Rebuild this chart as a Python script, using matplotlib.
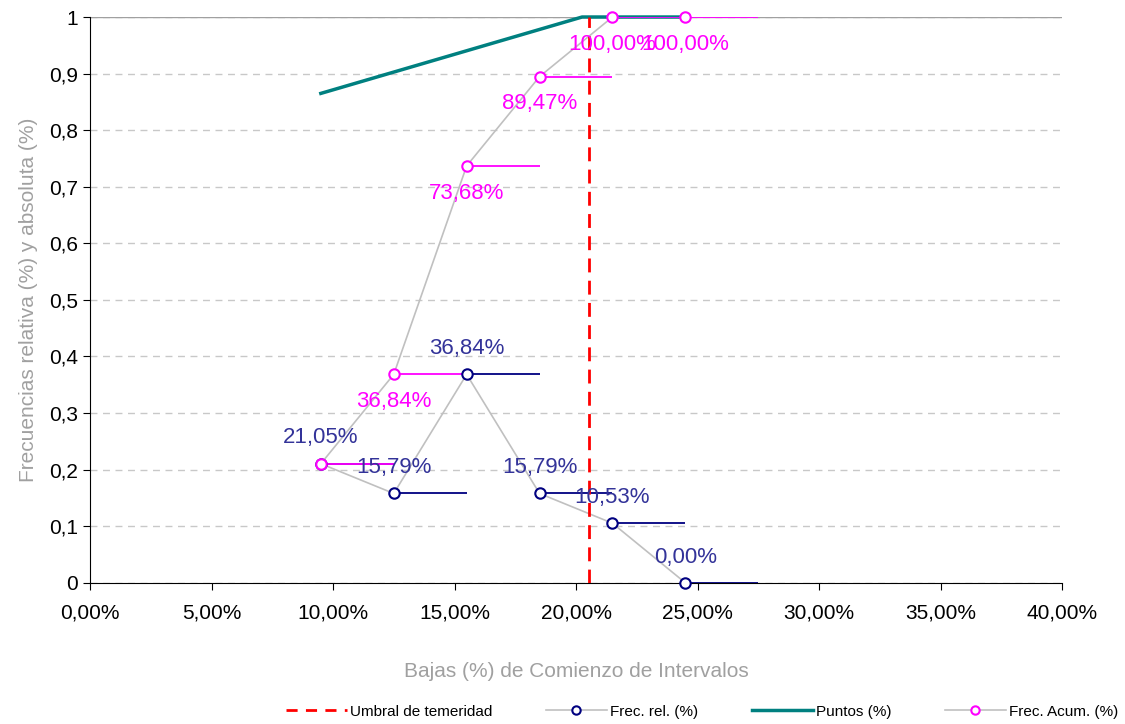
import matplotlib.pyplot as plt
from matplotlib.lines import Line2D
from matplotlib.ticker import FuncFormatter, MultipleLocator

plt.rcParams['font.family'] = ['Liberation Sans', 'DejaVu Sans']

# datos
bajas = [0.095, 0.125, 0.155, 0.185, 0.215, 0.245]
frec_rel = [0.2105, 0.1579, 0.3684, 0.1579, 0.1053, 0.0]
frec_acum = [0.2105, 0.3684, 0.7368, 0.8947, 1.0, 1.0]
ancho_intervalo = 0.03
puntos_x = [0.095, 0.2025, 0.245]
puntos_y = [0.865, 1.0, 1.0]
umbral = 0.2055

navy = '#000080'
label_navy = '#333399'
magenta = '#ff00ff'
teal = '#008080'


def pct(v):
    return ('%.2f%%' % (v * 100)).replace('.', ',')


fig = plt.figure(figsize=(11.25, 7.24), dpi=100)
ax = fig.add_axes([0.08, 0.195, 0.864, 0.7815])

ax.set_xlim(0, 0.40)
ax.set_ylim(0, 1)
ax.xaxis.set_major_locator(MultipleLocator(0.05))
ax.yaxis.set_major_locator(MultipleLocator(0.1))
ax.xaxis.set_major_formatter(FuncFormatter(lambda v, p: pct(v)))
ax.yaxis.set_major_formatter(
    FuncFormatter(lambda v, p: ('%g' % round(v, 1)).replace('.', ',')))
ax.grid(axis='y', color='#c8c8c8', linestyle=(0, (5, 4)), linewidth=1)
ax.axhline(1, color='#a0a0a0', lw=1, zorder=1)
ax.set_axisbelow(True)
for s in ['top', 'right']:
    ax.spines[s].set_visible(False)
ax.tick_params(labelsize=15, length=5, direction='out')
ax.tick_params(axis='x', pad=10)

# puntos
ax.plot(puntos_x, puntos_y, color=teal, lw=2.5, zorder=3, clip_on=False)

# frecuencia relativa
ax.plot(bajas, frec_rel, color='#c0c0c0', lw=1.2, zorder=2)
ax.errorbar(bajas, frec_rel, xerr=[[0] * len(bajas), [ancho_intervalo] * len(bajas)],
            fmt='none', ecolor=navy, elinewidth=1.3, capsize=0, zorder=3)
ax.plot(bajas, frec_rel, 'o', mfc='white', mec=navy, mew=1.5, ms=7.5,
        zorder=5, clip_on=False)

# frecuencia acumulada
ax.plot(bajas, frec_acum, color='#c0c0c0', lw=1.2, zorder=2)
ax.errorbar(bajas, frec_acum, xerr=[[0] * len(bajas), [ancho_intervalo] * len(bajas)],
            fmt='none', ecolor=magenta, elinewidth=1.3, capsize=0, zorder=4)
ax.plot(bajas, frec_acum, 'o', mfc='white', mec=magenta, mew=1.5, ms=7.5,
        zorder=6, clip_on=False)

# umbral
ax.axvline(umbral, color='#ff0000', lw=2, linestyle=(0, (5, 3)), zorder=4)

for x, y in zip(bajas, frec_rel):
    ax.annotate(pct(y), (x, y), xytext=(0, 11), textcoords='offset points',
                ha='center', va='bottom', fontsize=16, color=label_navy, zorder=7)
for x, y in zip(bajas[1:], frec_acum[1:]):
    ax.annotate(pct(y), (x, y), xytext=(0, -12), textcoords='offset points',
                ha='center', va='top', fontsize=16, color=magenta, zorder=7)

ax.set_xlabel('Bajas (%) de Comienzo de Intervalos', fontsize=15,
              color='#a0a0a0', labelpad=28)
ax.set_ylabel('Frecuencias relativa (%) y absoluta (%)', fontsize=15,
              color='#a0a0a0', labelpad=8)

handles = [
    Line2D([], [], color='#ff0000', lw=2, linestyle=(0, (4, 3))),
    Line2D([], [], color='#c0c0c0', lw=1.2, marker='o', mfc='white', mec=navy, mew=1.5, ms=6),
    Line2D([], [], color=teal, lw=2.5),
    Line2D([], [], color='#c0c0c0', lw=1.2, marker='o', mfc='white', mec=magenta, mew=1.5, ms=6),
]
labels = ['Umbral de temeridad', 'Frec. rel. (%)', 'Puntos (%)', 'Frec. Acum. (%)']
fig.legend(handles, labels, loc='center', bbox_to_anchor=(0.624, 0.017), ncol=4,
           frameon=False, fontsize=11, handlelength=4, handletextpad=0.2,
           columnspacing=3.5)

fig.savefig('out.png', dpi=100)
